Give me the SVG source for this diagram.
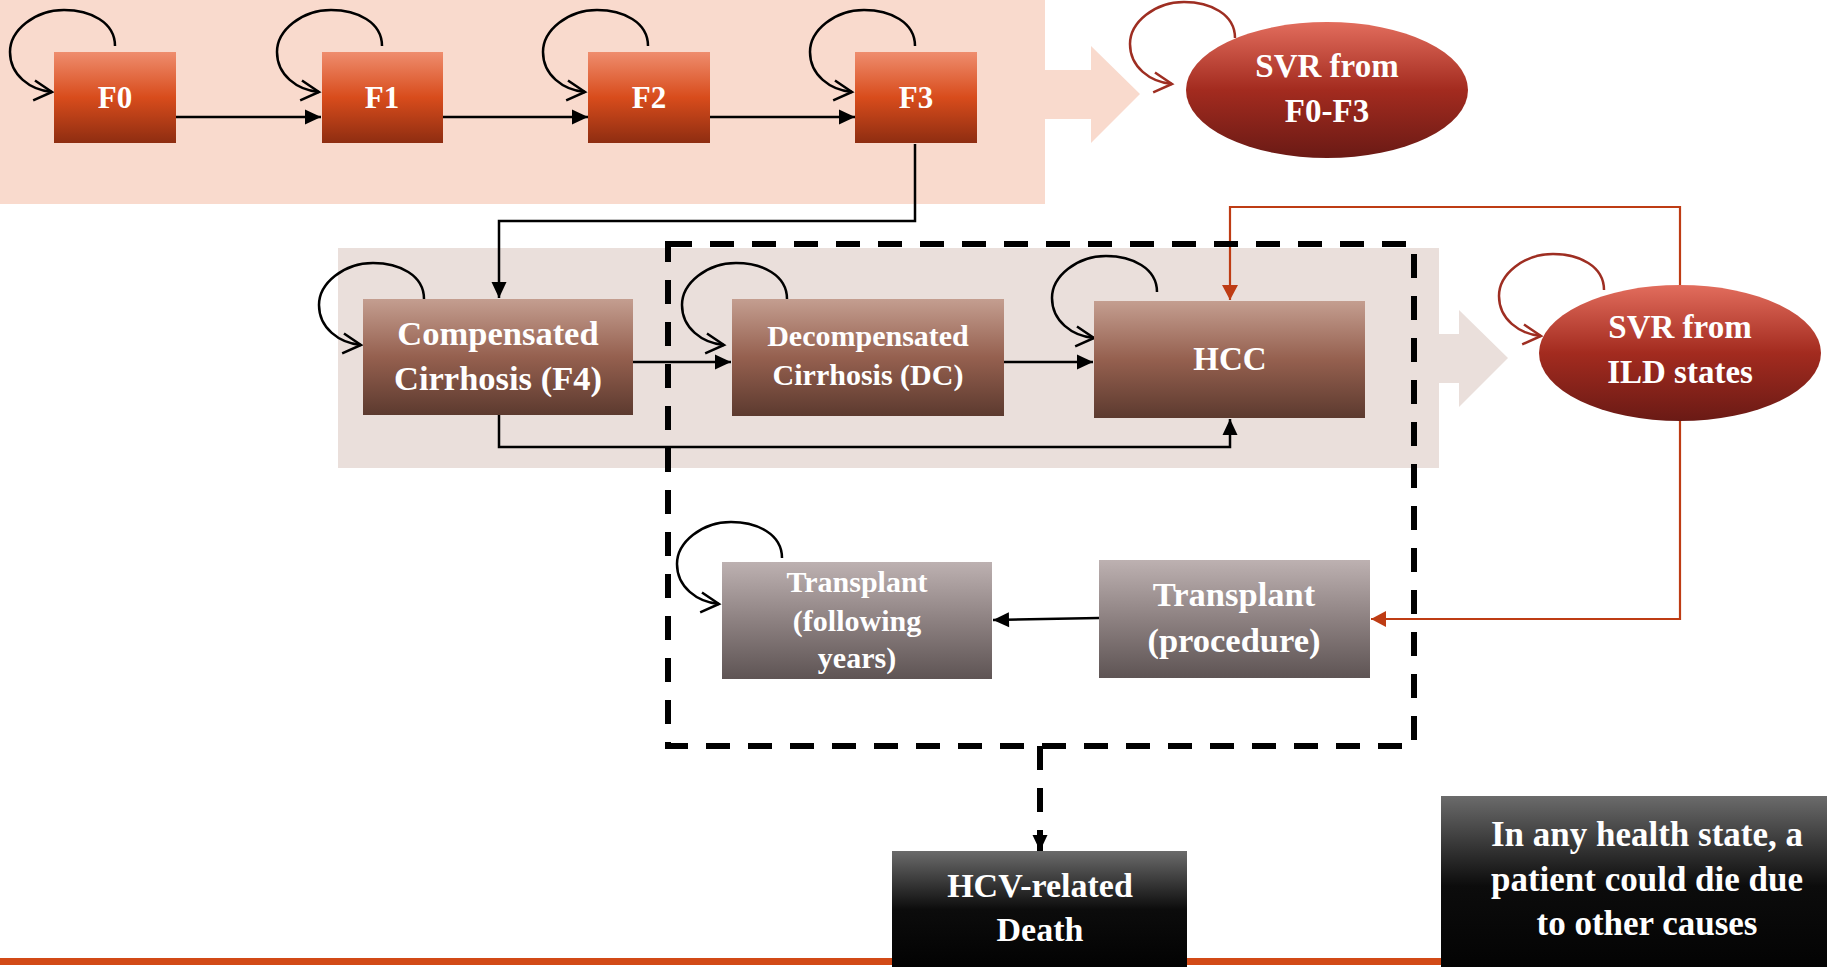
<svg xmlns="http://www.w3.org/2000/svg" width="1827" height="967" viewBox="0 0 1827 967">
<style>
  .t { font-family: "Liberation Serif", "DejaVu Serif", serif; font-weight: bold; fill: #FFFFFF; text-anchor: middle; }
  .conn { fill: none; stroke: #000; stroke-width: 2.5; }
  .loop { fill: none; stroke: #000; stroke-width: 2.5; marker-end: url(#openBlk); }
  .rloop { fill: none; stroke: #9E2E22; stroke-width: 2.5; marker-end: url(#openRed); }
  .red { fill: none; stroke: #BE3C14; stroke-width: 2.2; }
</style>
<defs>
  <linearGradient id="gF" x1="0" y1="0" x2="0" y2="1">
    <stop offset="0" stop-color="#EF8D6E"/>
    <stop offset="0.5" stop-color="#D84C1C"/>
    <stop offset="1" stop-color="#8E2D11"/>
  </linearGradient>
  <linearGradient id="gSVR" x1="0" y1="0" x2="0" y2="1">
    <stop offset="0" stop-color="#E26D5D"/>
    <stop offset="0.5" stop-color="#A32B1F"/>
    <stop offset="1" stop-color="#6A1A15"/>
  </linearGradient>
  <linearGradient id="gCir" x1="0" y1="0" x2="0" y2="1">
    <stop offset="0" stop-color="#C49E90"/>
    <stop offset="0.5" stop-color="#95604F"/>
    <stop offset="1" stop-color="#5C3A2F"/>
  </linearGradient>
  <linearGradient id="gTx" x1="0" y1="0" x2="0" y2="1">
    <stop offset="0" stop-color="#BDB1B1"/>
    <stop offset="0.5" stop-color="#8D8181"/>
    <stop offset="1" stop-color="#5E5454"/>
  </linearGradient>
  <linearGradient id="gDeath" x1="0" y1="0" x2="0" y2="1">
    <stop offset="0" stop-color="#6B6B6B"/>
    <stop offset="0.45" stop-color="#0C0C0C"/>
    <stop offset="1" stop-color="#000000"/>
  </linearGradient>
  <marker id="fillBlk" markerUnits="userSpaceOnUse" orient="auto" refX="0" refY="0" overflow="visible">
    <path d="M-16,-7.5 L0,0 L-16,7.5 Z" fill="#000"/>
  </marker>
  <marker id="fillRed" markerUnits="userSpaceOnUse" orient="auto" refX="0" refY="0" overflow="visible">
    <path d="M-15,-8 L0,0 L-15,8 Z" fill="#BE3C14"/>
  </marker>
  <marker id="openBlk" markerUnits="userSpaceOnUse" orient="auto" refX="0" refY="0" overflow="visible">
    <path d="M-18,-10 L0,0 L-18,10" fill="none" stroke="#000" stroke-width="2.5"/>
  </marker>
  <marker id="openRed" markerUnits="userSpaceOnUse" orient="auto" refX="0" refY="0" overflow="visible">
    <path d="M-18,-10 L0,0 L-18,10" fill="none" stroke="#9E2E22" stroke-width="2.5"/>
  </marker>
</defs>

<!-- background bands and block arrows -->
<g id="bands">
  <rect x="0" y="0" width="1045" height="204" fill="#F9DACD"/>
  <polygon points="1040,70 1091,70 1091,46 1140,94 1091,143 1091,119 1040,119" fill="#F9DACD"/>
  <rect x="338" y="248" width="1101" height="220" fill="#EADFDB"/>
  <polygon points="1435,334 1459,334 1459,310 1508,358 1459,407 1459,383 1435,383" fill="#EADFDB"/>
  <rect x="0" y="958" width="1827" height="7" fill="#D24A17"/>
</g>

<!-- connectors -->
<g id="connectors">
  <path class="conn" d="M176,117 L321,117" marker-end="url(#fillBlk)"/>
  <path class="conn" d="M443,117 L588,117" marker-end="url(#fillBlk)"/>
  <path class="conn" d="M710,117 L855,117" marker-end="url(#fillBlk)"/>
  <path class="conn" d="M915,144 L915,221 L499,221 L499,298" marker-end="url(#fillBlk)"/>
  <path class="conn" d="M633,362 L731,362" marker-end="url(#fillBlk)"/>
  <path class="conn" d="M1004,362 L1093,362" marker-end="url(#fillBlk)"/>
  <path class="conn" d="M499,415 L499,447 L1230,447 L1230,419" marker-end="url(#fillBlk)"/>
  <path class="conn" d="M1099,618 L993,620" marker-end="url(#fillBlk)"/>
  <path class="red" d="M1680,285 L1680,207 L1230,207 L1230,300" marker-end="url(#fillRed)"/>
  <path class="red" d="M1680,421 L1680,619 L1371,619" marker-end="url(#fillRed)"/>
  <path d="M1040,746 L1040,851" fill="none" stroke="#000" stroke-width="6" stroke-dasharray="24 18" marker-end="url(#fillBlk)"/>
  <!-- self loops -->
  <path class="loop" d="M115,46 C115,22 90,10 64,10 C35,10 10,30 10,52 C10,75 30,90 52,92"/>
  <path class="loop" d="M382,46 C382,22 357,10 331,10 C302,10 277,30 277,52 C277,75 297,90 319,92"/>
  <path class="loop" d="M648,46 C648,22 623,10 597,10 C568,10 543,30 543,52 C543,75 563,90 585,92"/>
  <path class="loop" d="M915,46 C915,22 890,10 864,10 C835,10 810,30 810,52 C810,75 830,90 852,92"/>
  <path class="loop" d="M424,299 C424,275 399,263 373,263 C344,263 319,283 319,305 C319,328 339,343 361,345"/>
  <path class="loop" d="M787,299 C787,275 762,263 736,263 C707,263 682,283 682,305 C682,328 702,343 724,345"/>
  <path class="loop" d="M1157,292 C1157,268 1132,256 1106,256 C1077,256 1052,276 1052,298 C1052,321 1072,336 1094,338"/>
  <path class="loop" d="M782,558 C782,534 757,522 731,522 C702,522 677,542 677,564 C677,587 697,602 719,604"/>
  <path class="rloop" d="M1235,38 C1235,14 1210,2 1184,2 C1155,2 1130,22 1130,44 C1130,67 1150,82 1172,84"/>
  <path class="rloop" d="M1604,290 C1604,266 1579,254 1553,254 C1524,254 1499,274 1499,296 C1499,319 1519,334 1541,336"/>
</g>

<!-- ILD container (dashed) -->
<g id="ild-container">
  <rect x="668" y="244" width="746" height="502" fill="none" stroke="#000" stroke-width="6" stroke-dasharray="24 18"/>
</g>

<!-- nodes -->
<g id="F0">
  <rect x="54" y="52" width="122" height="91" fill="url(#gF)"/>
  <text class="t" x="115" y="108" font-size="31">F0</text>
</g>
<g id="F1">
  <rect x="322" y="52" width="121" height="91" fill="url(#gF)"/>
  <text class="t" x="382" y="108" font-size="31">F1</text>
</g>
<g id="F2">
  <rect x="588" y="52" width="122" height="91" fill="url(#gF)"/>
  <text class="t" x="649" y="108" font-size="31">F2</text>
</g>
<g id="F3">
  <rect x="855" y="52" width="122" height="91" fill="url(#gF)"/>
  <text class="t" x="916" y="108" font-size="31">F3</text>
</g>
<g id="SVR-F0-F3">
  <ellipse cx="1327" cy="90" rx="141" ry="68" fill="url(#gSVR)"/>
  <text class="t" x="1327" y="77" font-size="33">SVR from</text>
  <text class="t" x="1327" y="122" font-size="33">F0-F3</text>
</g>
<g id="compensated">
  <rect x="363" y="299" width="270" height="116" fill="url(#gCir)"/>
  <text class="t" x="498" y="345" font-size="34.5">Compensated</text>
  <text class="t" x="498" y="390" font-size="34.5">Cirrhosis (F4)</text>
</g>
<g id="decompensated">
  <rect x="732" y="299" width="272" height="117" fill="url(#gCir)"/>
  <text class="t" x="868" y="346" font-size="30">Decompensated</text>
  <text class="t" x="868" y="385" font-size="30">Cirrhosis (DC)</text>
</g>
<g id="HCC">
  <rect x="1094" y="301" width="271" height="117" fill="url(#gCir)"/>
  <text class="t" x="1230" y="370" font-size="33">HCC</text>
</g>
<g id="SVR-ILD">
  <ellipse cx="1680" cy="353" rx="141" ry="68" fill="url(#gSVR)"/>
  <text class="t" x="1680" y="338" font-size="33">SVR from</text>
  <text class="t" x="1680" y="383" font-size="33">ILD states</text>
</g>
<g id="transplant-following">
  <rect x="722" y="562" width="270" height="117" fill="url(#gTx)"/>
  <text class="t" x="857" y="592" font-size="30">Transplant</text>
  <text class="t" x="857" y="631" font-size="30">(following</text>
  <text class="t" x="857" y="668" font-size="30">years)</text>
</g>
<g id="transplant-procedure">
  <rect x="1099" y="560" width="271" height="118" fill="url(#gTx)"/>
  <text class="t" x="1234" y="606" font-size="34.5">Transplant</text>
  <text class="t" x="1234" y="652" font-size="34.5">(procedure)</text>
</g>
<g id="HCV-death">
  <rect x="892" y="851" width="295" height="130" fill="url(#gDeath)"/>
  <text class="t" x="1040" y="897" font-size="34">HCV-related</text>
  <text class="t" x="1040" y="941" font-size="34">Death</text>
</g>
<g id="other-causes">
  <rect x="1441" y="796" width="414" height="200" fill="url(#gDeath)"/>
  <text class="t" x="1647" y="846" font-size="35">In any health state, a</text>
  <text class="t" x="1647" y="891" font-size="35">patient could die due</text>
  <text class="t" x="1647" y="935" font-size="35">to other causes</text>
</g>
</svg>
